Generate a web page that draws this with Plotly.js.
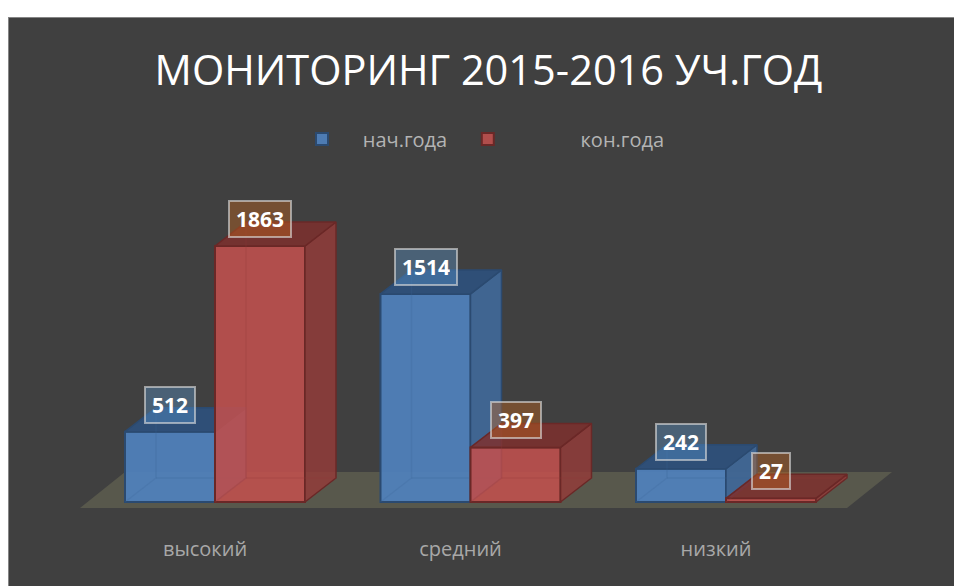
<!DOCTYPE html>
<html><head><meta charset="utf-8">
<script src="https://cdn.plot.ly/plotly-3.0.1.min.js"></script>
<style>
html,body{margin:0;padding:0;background:#fff;overflow:hidden}
#chart{position:absolute;left:8px;top:17px;width:946px;height:569px}
#edge{position:absolute;left:8px;top:17px;width:946px;height:569px;box-shadow:inset 1px 1px 0 #858585;pointer-events:none}
</style></head><body><div id="chart"></div><div id="edge"></div>
<script>
const categories = ["высокий", "средний", "низкий"];
const startYear = [512, 1514, 242];
const endYear = [1863, 397, 27];
const seriesNames = ["нач.года", "кон.года"];
const chartTitle = "МОНИТОРИНГ 2015-2016 УЧ.ГОД";

// scales
const catPx = 255.5, unitPx = 256 / 1863;
const depthX = 31 / catPx, depthY = 24 / unitPx, barW = 90 / catPx;
const H = 569, plotBottom = 535, baseY = 502, originX = 215;
const xRange = [(8 - originX) / catPx, (954 - originX) / catPx];
const yRange = [-(plotBottom - baseY) / unitPx, (baseY - 17) / unitPx];
const nb = n => "\u00A0".repeat(n);

function faces(values, left, side, top, edge, ghost, axes) {
  const sx = [], sy = [], tx = [], ty = [], gx = [], gy = [];
  values.forEach((v, i) => {
    const a = i + left, b = a + barW;
    sx.push(b, b + depthX, b + depthX, b, b, null);
    sy.push(0, depthY, v + depthY, v, 0, null);
    tx.push(a, a + depthX, b + depthX, b, a, null);
    ty.push(v, v + depthY, v + depthY, v, v, null);
    gx.push(a, a + depthX, a + depthX, null, a + depthX, b + depthX, null);
    gy.push(0, depthY, v + depthY, null, depthY, depthY, null);
  });
  const base = {type: "scatter", mode: "lines", showlegend: false, hoverinfo: "skip", ...axes};
  return [
    {...base, x: sx, y: sy, fill: "toself", fillcolor: side, line: {color: edge, width: 1.5}},
    {...base, x: tx, y: ty, fill: "toself", fillcolor: top, line: {color: edge, width: 1.5}},
    {...base, x: gx, y: gy, line: {color: ghost, width: 1.5}}
  ];
}
const idx = categories.map((_, i) => i);
const axesA = {xaxis: "x", yaxis: "y"}, axesB = {xaxis: "x2", yaxis: "y2"};
const data = [
  {type: "bar", name: nb(4) + seriesNames[0] + nb(3), x: idx, y: startYear, width: barW, offset: -barW,
   marker: {color: "rgba(79,129,189,0.92)", line: {color: "#2b4a70", width: 2}}, ...axesA},
  ...faces(startYear, -barW, "rgba(64,103,150,0.95)", "rgba(46,80,122,0.95)", "#2b4a70", "rgba(60,100,150,0.22)", axesA),
  {type: "bar", name: nb(14) + seriesNames[1], x: idx, y: endYear, width: barW, offset: 0,
   marker: {color: "rgba(192,80,77,0.88)", line: {color: "#6a2827", width: 2}}, ...axesB},
  ...faces(endYear, 0, "rgba(146,60,58,0.85)", "rgba(126,48,46,0.85)", "#6a2827", "rgba(150,60,58,0.22)", axesB)
];

function label(v, i, left, bg) {
  return {xref: "x2", yref: "y2", x: i + left + barW / 2, y: v, yshift: 27, text: "<b>" + v + "</b>", showarrow: false,
    font: {family: "Open Sans", size: 21, color: "#fff"}, bgcolor: bg, height: 22,
    bordercolor: "rgba(220,220,220,0.62)", borderwidth: 2, borderpad: 6};
}
const annotations = [
  ...startYear.map((v, i) => label(v, i, -barW, "rgba(95,160,220,0.35)")),
  ...endYear.map((v, i) => label(v, i, 0, "rgba(190,100,30,0.42)"))
];

const layout = {
  width: 946, height: H, margin: {l: 0, r: 0, t: 0, b: 586 - plotBottom},
  paper_bgcolor: "#404040", plot_bgcolor: "rgba(0,0,0,0)",
  title: {text: chartTitle, x: (488.5 - 8) / 946, xanchor: "center", y: 1 - 53 / H, yanchor: "middle",
          font: {family: "Open Sans", size: 41.5, color: "#fff"}},
  barmode: "overlay",
  showlegend: true,
  legend: {orientation: "h", x: (302 - 8) / 946, xanchor: "left", y: 1 - 122 / 518, yanchor: "middle",
           font: {family: "Open Sans", size: 20, color: "#b4b4b4"}, bgcolor: "rgba(0,0,0,0)", traceorder: "normal"},
  xaxis: {range: xRange, tickmode: "array", tickvals: idx.map(i => i - 10 / catPx), ticktext: categories,
          showgrid: false, zeroline: false, showline: false, ticks: "", ticklen: 0,
          tickfont: {family: "Open Sans", size: 20, color: "#a8a8a8"}},
  yaxis: {range: yRange, visible: false, showgrid: false, zeroline: false},
  xaxis2: {range: xRange, overlaying: "x", visible: false},
  yaxis2: {range: yRange, overlaying: "y", visible: false},
  shapes: [{type: "path", layer: "below", xref: "x", yref: "y", line: {width: 0}, fillcolor: "#58584c",
    path: "M" + (80 - originX) / catPx + "," + (-6 / unitPx) + " L" + (125 - originX) / catPx + "," + (30 / unitPx) +
          " L" + (892 - originX) / catPx + "," + (30 / unitPx) + " L" + (847 - originX) / catPx + "," + (-6 / unitPx) + " Z"}],
  annotations: annotations
};
Plotly.newPlot("chart", data, layout, {displayModeBar: false, staticPlot: true});
</script></body></html>
